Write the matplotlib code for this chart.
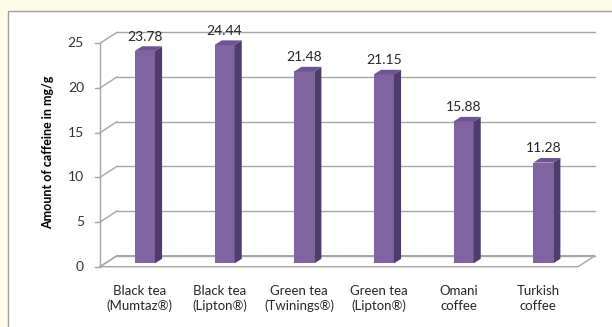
import numpy as np
import matplotlib.pyplot as plt
from matplotlib.patches import Polygon, Rectangle

# data
categories = ['Black tea\n(Mumtaz®)', 'Black tea\n(Lipton®)', 'Green tea\n(Twinings®)',
              'Green tea\n(Lipton®)', 'Omani\ncoffee', 'Turkish\ncoffee']
caffeine = [23.78, 24.44, 21.48, 21.15, 15.88, 11.28]
yticks = [0, 5, 10, 15, 20, 25]

plt.rcParams['font.family'] = ['Lato', 'DejaVu Sans']

W, H = 612, 327
fig = plt.figure(figsize=(W / 100, H / 100), dpi=100)
fig.patch.set_facecolor('#FFFBE9')

# pixel layout of the 3-D frame
x0_px, x1_px = 100, 578          # front floor edge
y0_px, ytop_px = 266.7, 43.3     # value 0 and value 25 on the front axis
ppx = (x1_px - x0_px) / len(categories)
ppy = (y0_px - ytop_px) / 25.0

ax = fig.add_axes([0, 0, 1, 1])
ax.set_xlim(-0.5 - x0_px / ppx, -0.5 + (W - x0_px) / ppx)
ax.set_ylim(-(H - y0_px) / ppy, y0_px / ppy)
ax.axis('off')
ax.patch.set_alpha(0)

# white chart panel
ax.add_patch(Rectangle((8 / W, -0.1), 1, 1.1 - 11 / H, transform=fig.transFigure,
                       facecolor='white', edgecolor='#A0A0A0', lw=1.0, zorder=0))

n = len(categories)
dx, dy = 17 / ppx, 11 / ppy      # depth of the frame
left, right = -0.5, n - 0.5
grid_c = '#A6A6A6'

# floor
ax.add_patch(Polygon([(left, 0), (right, 0), (right + dx, dy), (left + dx, dy)],
                     closed=True, facecolor='white', edgecolor=grid_c, lw=1.0, zorder=1))
# back wall gridlines and side wall diagonals
for v in yticks:
    ax.plot([left + dx, right + dx], [v + dy, v + dy], color=grid_c, lw=1.0, zorder=1)
    ax.plot([left, left + dx], [v, v + dy], color=grid_c, lw=1.0, zorder=1)
    ax.plot([left - 5 / ppx, left], [v, v], color=grid_c, lw=1.0, zorder=1)
    ax.text(left - 16 / ppx, v, str(v), ha='right', va='center', fontsize=10, color='#333333')
ax.plot([left, left], [0, yticks[-1]], color=grid_c, lw=1.0, zorder=1)

# bars
bw = 20 / ppx
f0, fd = 0.3, 0.42
front_c, top_c, side_c = '#8064A2', '#6C5490', '#4F3C6C'
xs = np.arange(n) + f0 * dx
base = f0 * dy
ax.bar(xs, caffeine, width=bw, bottom=base, color=front_c, zorder=3, lw=0)
for x, v in zip(xs, caffeine):
    xl, xr = x - bw / 2, x + bw / 2
    top = base + v
    ax.add_patch(Polygon([(xr, base), (xr + fd * dx, base + fd * dy),
                          (xr + fd * dx, top + fd * dy), (xr, top)],
                         closed=True, facecolor=side_c, lw=0, zorder=3))
    ax.add_patch(Polygon([(xl, top), (xr, top), (xr + fd * dx, top + fd * dy),
                          (xl + fd * dx, top + fd * dy)],
                         closed=True, facecolor=top_c, lw=0, zorder=3))
    ax.text(x, v + 1.95, f'{v:.2f}', ha='center', va='center', fontsize=10, color='#262626')

# category labels
for i, lab in enumerate(categories):
    ax.text(i, -3.56, lab, ha='center', va='center', fontsize=9.5, color='#262626',
            linespacing=1.25)

ax.text(left - 52 / ppx, 12.8, 'Amount of caffeine in mg/g', rotation=90, ha='center',
        va='center', fontsize=9, fontweight='bold', color='black')

fig.savefig('out.png', dpi=100, facecolor=fig.get_facecolor())
